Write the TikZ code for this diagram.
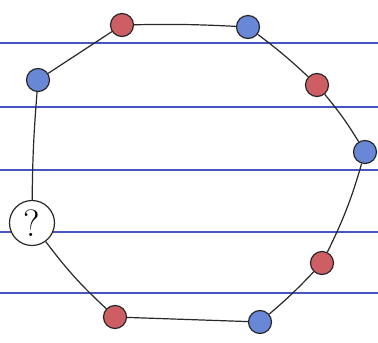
\documentclass[tikz,border=0pt]{standalone}
\usepackage{tikz}
\usetikzlibrary{positioning}
\usepackage{xcolor}
\definecolor{ruleblue}{RGB}{70,85,195}
\definecolor{dotred}{RGB}{205,95,100}
\definecolor{dotblue}{RGB}{105,135,215}
\definecolor{pencil}{RGB}{40,40,40}

\tikzset{
  reddot/.style={circle,draw=pencil,line width=1.2pt,fill=dotred,minimum size=23pt,inner sep=0pt},
  bluedot/.style={circle,draw=pencil,line width=1.2pt,fill=dotblue,minimum size=23pt,inner sep=0pt},
  qnode/.style={circle,draw=pencil,line width=1.2pt,fill=white,minimum size=45pt,inner sep=0pt,
    font=\fontsize{38}{38}\selectfont},
  edge/.style={draw=pencil,line width=1.2pt}
}

\begin{document}
\begin{tikzpicture}[x=1pt,y=-1pt]
        \useasboundingbox[fill=white] (0,0) rectangle (378,343);
        % ruled paper
        \foreach \y in {43,107,170,232,293} {
          \draw[ruleblue,line width=1.6pt] (0,\y) -- (378,\y);
        }
        % dots round the ring
        \node[reddot]  (r1) at (122,25)  {};
        \node[bluedot] (b1) at (248,27)  {};
        \node[reddot]  (r2) at (317,85)  {};
        \node[bluedot] (b2) at (365,152) {};
        \node[reddot]  (r3) at (322,263) {};
        \node[bluedot] (b3) at (260,322) {};
        \node[reddot]  (r4) at (115,317) {};
        \node[bluedot] (b4) at (38,80)   {};
        \node[qnode]   (q)  at (32,223)  {?};
        % ring
        \draw[edge] (r1) to[bend left=2] (b1);
        \draw[edge] (b1) to[bend left=3] (r2);
        \draw[edge] (r2) to[bend left=4] (b2);
        \draw[edge] (b2) to[bend left=5] (r3);
        \draw[edge] (r3) to[bend left=3] (b3);
        \draw[edge] (b3) -- (r4);
        \draw[edge] (r4) to[bend left=5] (q);
        \draw[edge] (q)  to[bend left=2] (b4);
        \draw[edge] (b4) -- (r1);
      \end{tikzpicture}
\end{document}
